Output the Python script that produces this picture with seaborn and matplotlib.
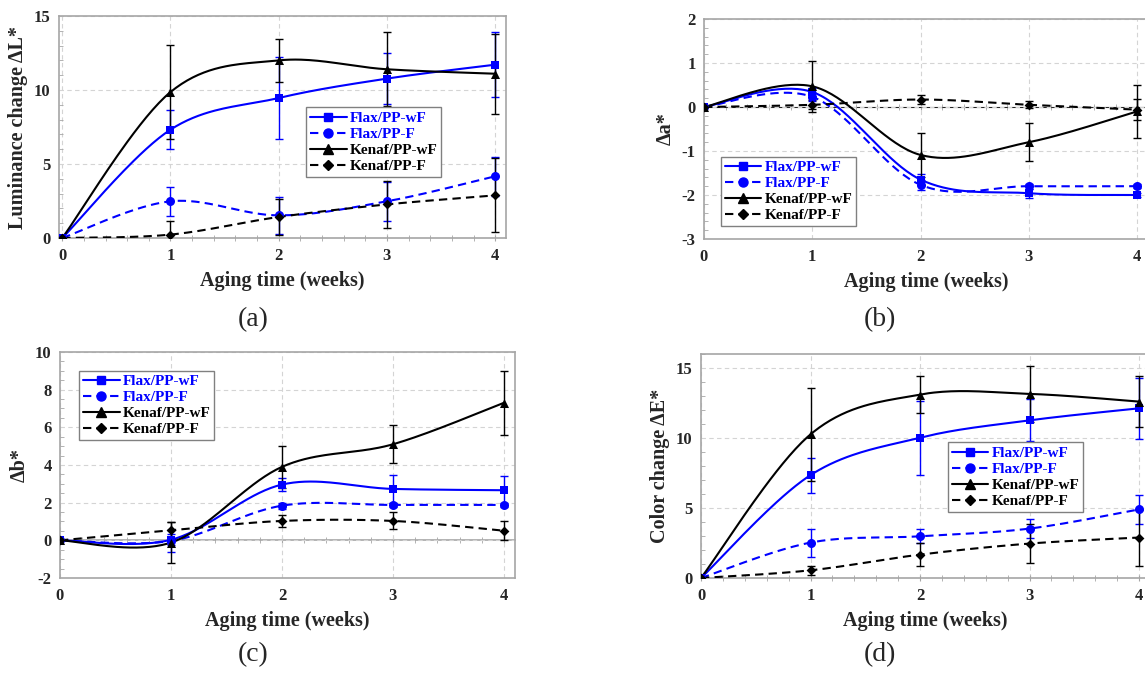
# Variação de cor após envelhecimento: ΔL*, Δa*, Δb*, ΔE*

import numpy as np
import pandas as pd
import seaborn as sns
import matplotlib.pyplot as plt
from matplotlib.lines import Line2D
from matplotlib.ticker import MultipleLocator, NullFormatter

# Dados
weeks = [0, 1, 2, 3, 4]
series = ["Flax/PP-wF", "Flax/PP-F", "Kenaf/PP-wF", "Kenaf/PP-F"]

# (a) ΔL*
dL_flax_wF = [0, 7.32, 9.46, 10.77, 11.71]
dL_flax_F = [0, 2.48, 1.53, 2.48, 4.17]
dL_kenaf_wF = [0, 9.86, 12.0, 11.4, 11.1]
dL_kenaf_F = [0, 0.23, 1.42, 2.27, 2.88]
dL_err_flax_wF = [0, 1.3, 2.75, 1.7, 2.2]
dL_err_flax_F = [0, 0.96, 1.25, 1.3, 1.3]
dL_err_kenaf_wF = [0, 3.2, 1.45, 2.5, 2.7]
dL_err_kenaf_F = [0, 0.9, 1.2, 1.6, 2.5]

# (b) Δa*
da_flax_wF = [0, 0.34, -1.65, -1.96, -2.0]
da_flax_F = [0, 0.23, -1.77, -1.8, -1.8]
da_kenaf_wF = [0, 0.47, -1.09, -0.8, -0.1]
da_kenaf_F = [0, 0.05, 0.17, 0.05, -0.06]
da_err_flax_wF = [0, 0.1, 0.12, 0.1, 0.05]
da_err_flax_F = [0, 0.1, 0.12, 0.06, 0.05]
da_err_kenaf_wF = [0, 0.58, 0.5, 0.43, 0.6]
da_err_kenaf_F = [0, 0.1, 0.1, 0.08, 0.24]

# (c) Δb*
db_flax_wF = [0, 0.03, 2.96, 2.73, 2.66]
db_flax_F = [0, -0.03, 1.84, 1.88, 1.88]
db_kenaf_wF = [0, -0.12, 3.9, 5.1, 7.3]
db_kenaf_F = [0, 0.53, 1.03, 1.03, 0.51]
db_err_flax_wF = [0, 0.3, 0.35, 0.75, 0.76]
db_err_flax_F = [0, 0.6, 0.15, 0.1, 0.1]
db_err_kenaf_wF = [0, 1.1, 1.1, 1.0, 1.7]
db_err_kenaf_F = [0, 0.45, 0.3, 0.45, 0.5]

# (d) ΔE*
dE_flax_wF = [0, 7.35, 10.02, 11.26, 12.12]
dE_flax_F = [0, 2.53, 2.98, 3.53, 4.9]
dE_kenaf_wF = [0, 10.26, 13.1, 13.15, 12.6]
dE_kenaf_F = [0, 0.55, 1.67, 2.46, 2.89]
dE_err_flax_wF = [0, 1.25, 2.65, 1.5, 2.2]
dE_err_flax_F = [0, 1.0, 0.5, 0.7, 1.05]
dE_err_kenaf_wF = [0, 3.3, 1.3, 2.0, 1.8]
dE_err_kenaf_F = [0, 0.3, 0.8, 1.4, 2.0]

# Estilo de cada série
colors = {"Flax/PP-wF": "#0000ff", "Flax/PP-F": "#0000ff",
          "Kenaf/PP-wF": "black", "Kenaf/PP-F": "black"}
markers = {"Flax/PP-wF": "s", "Flax/PP-F": "o",
           "Kenaf/PP-wF": "^", "Kenaf/PP-F": "D"}
msizes = {"Flax/PP-wF": 6, "Flax/PP-F": 6.5, "Kenaf/PP-wF": 6.5, "Kenaf/PP-F": 5}
dashes = {"Flax/PP-wF": "-", "Flax/PP-F": (0, (4, 2.5)),
          "Kenaf/PP-wF": "-", "Kenaf/PP-F": (0, (4, 2.5))}


def smooth(x, y, n=40):
    # curva suave tipo Excel (Bezier com tangentes Catmull-Rom)
    x = np.asarray(x, float)
    y = np.asarray(y, float)
    P = np.column_stack([x, y])
    P = np.vstack([P[0], P, P[-1]])
    t = np.linspace(0, 1, n)[:, None]
    out = []
    for i in range(1, len(P) - 2):
        p0, p1, p2, p3 = P[i - 1], P[i], P[i + 1], P[i + 2]
        c1 = p1 + (p2 - p0) / 6
        c2 = p2 - (p3 - p1) / 6
        seg = ((1 - t) ** 3) * p1 + 3 * ((1 - t) ** 2) * t * c1 \
            + 3 * (1 - t) * t ** 2 * c2 + t ** 3 * p2
        out.append(seg)
    out = np.vstack(out)
    return out[:, 0], out[:, 1]


sns.set_style("white")
plt.rcParams['font.family'] = ['Liberation Serif', 'DejaVu Serif']
plt.rcParams['font.weight'] = 'bold'
plt.rcParams['axes.unicode_minus'] = False

W, H = 1145, 673
fig = plt.figure(figsize=(W / 100, H / 100), dpi=100)


def add_axes(left, right, top, bottom):
    return fig.add_axes([left / W, 1 - bottom / H, (right - left) / W, (bottom - top) / H])


panels = [
    dict(ax=add_axes(59, 506, 16, 238), xlim=(-0.03, 4.1), ylim=(0, 15), major=5, minor=1,
         ylabel="Luminance change ΔL*", zero=None, leg=(0.553, 0.588),
         vals=[dL_flax_wF, dL_flax_F, dL_kenaf_wF, dL_kenaf_F],
         errs=[dL_err_flax_wF, dL_err_flax_F, dL_err_kenaf_wF, dL_err_kenaf_F],
         tag="(a)", tagpos=(253, 320)),
    dict(ax=add_axes(704, 1148, 19, 239), xlim=(0, 4.1), ylim=(-3, 2), major=1, minor=0.2,
         ylabel="Δa*", zero=0.6, leg=(0.038, 0.375),
         vals=[da_flax_wF, da_flax_F, da_kenaf_wF, da_kenaf_F],
         errs=[da_err_flax_wF, da_err_flax_F, da_err_kenaf_wF, da_err_kenaf_F],
         tag="(b)", tagpos=(880, 320)),
    dict(ax=add_axes(60, 515, 352, 578), xlim=(0, 4.1), ylim=(-2, 10), major=2, minor=0.5,
         ylabel="Δb*", zero=2 / 12, leg=(0.042, 0.918),
         vals=[db_flax_wF, db_flax_F, db_kenaf_wF, db_kenaf_F],
         errs=[db_err_flax_wF, db_err_flax_F, db_err_kenaf_wF, db_err_kenaf_F],
         tag="(c)", tagpos=(253, 655)),
    dict(ax=add_axes(701, 1150, 354, 578), xlim=(0, 4.1), ylim=(0, 16), major=5, minor=1,
         ylabel="Color change ΔE*", zero=None, leg=(0.55, 0.605),
         vals=[dE_flax_wF, dE_flax_F, dE_kenaf_wF, dE_kenaf_F],
         errs=[dE_err_flax_wF, dE_err_flax_F, dE_err_kenaf_wF, dE_err_kenaf_F],
         tag="(d)", tagpos=(880, 655)),
]

grey = "#a6a6a6"

for p in panels:
    ax = p["ax"]
    df = pd.DataFrame({"week": weeks * 4,
                       "value": sum(p["vals"], []),
                       "err": sum(p["errs"], []),
                       "serie": [s for s in series for _ in weeks]})

    for s in series:
        d = df[df["serie"] == s]
        xs, ys = smooth(d["week"], d["value"])
        ax.plot(xs, ys, color=colors[s], lw=1.5, linestyle=dashes[s], zorder=3)
        de = d[d["err"] > 0]
        ax.errorbar(de["week"], de["value"], yerr=de["err"], fmt="none",
                    ecolor=colors[s], elinewidth=1, capsize=3, capthick=1, zorder=4)
        sns.scatterplot(data=d, x="week", y="value", ax=ax, color=colors[s],
                        marker=markers[s], s=msizes[s] ** 2, edgecolor=colors[s],
                        linewidth=0, zorder=5, legend=False)

    ax.set_xlim(*p["xlim"])
    ax.set_ylim(*p["ylim"])
    ax.xaxis.set_major_locator(MultipleLocator(1))
    ax.xaxis.set_minor_locator(MultipleLocator(0.2))
    ax.yaxis.set_major_locator(MultipleLocator(p["major"]))
    ax.yaxis.set_minor_locator(MultipleLocator(p["minor"]))
    ax.grid(True, which="major", color="#d4d4d4", linestyle=(0, (4, 3)), lw=0.8)
    ax.set_axisbelow(True)
    for sp in ax.spines.values():
        sp.set_color(grey)
        sp.set_linewidth(1.2)
    ax.tick_params(axis="y", which="major", direction="out", length=3, color=grey,
                   labelsize=12, pad=3)
    ax.tick_params(axis="y", which="minor", direction="in", length=3, color=grey, left=True)
    if p["zero"] is None:
        ax.tick_params(axis="x", which="both", direction="inout", length=4, color=grey,
                       labelsize=12, pad=5, bottom=True)
    else:
        ax.tick_params(axis="x", which="both", length=0, labelsize=12, pad=7)
        sec = ax.secondary_xaxis(p["zero"])
        sec.xaxis.set_major_locator(MultipleLocator(1))
        sec.xaxis.set_minor_locator(MultipleLocator(0.2))
        sec.xaxis.set_major_formatter(NullFormatter())
        sec.xaxis.set_minor_formatter(NullFormatter())
        sec.tick_params(axis="x", which="both", direction="inout", length=4, color=grey)
        sec.spines["bottom"].set_color(grey)
        sec.spines["bottom"].set_linewidth(1.2)
    for lab in ax.get_xticklabels() + ax.get_yticklabels():
        lab.set_fontweight("bold")

    ax.set_xlabel("Aging time (weeks)", fontsize=14.5, fontweight="bold", labelpad=5)
    ax.set_ylabel(p["ylabel"], fontsize=14.5, fontweight="bold", labelpad=4)

    handles = [Line2D([], [], color=colors[s], linestyle=dashes[s], lw=1.5,
                      marker=markers[s], markersize=msizes[s]) for s in series]
    leg = ax.legend(handles, series, loc="upper left", bbox_to_anchor=p["leg"],
                    frameon=True, fancybox=False, edgecolor="#808080", framealpha=1,
                    fontsize=11, handlelength=2.4, handletextpad=0.2,
                    labelspacing=0.15, borderpad=0.25, borderaxespad=0)
    leg.get_frame().set_linewidth(1.0)
    for txt, s in zip(leg.get_texts(), series):
        txt.set_color(colors[s])
        txt.set_fontweight("bold")

    fig.text(p["tagpos"][0] / W, 1 - p["tagpos"][1] / H, p["tag"], fontsize=20,
             fontweight="normal", ha="center", va="center")

fig.savefig("out.png", dpi=100)
